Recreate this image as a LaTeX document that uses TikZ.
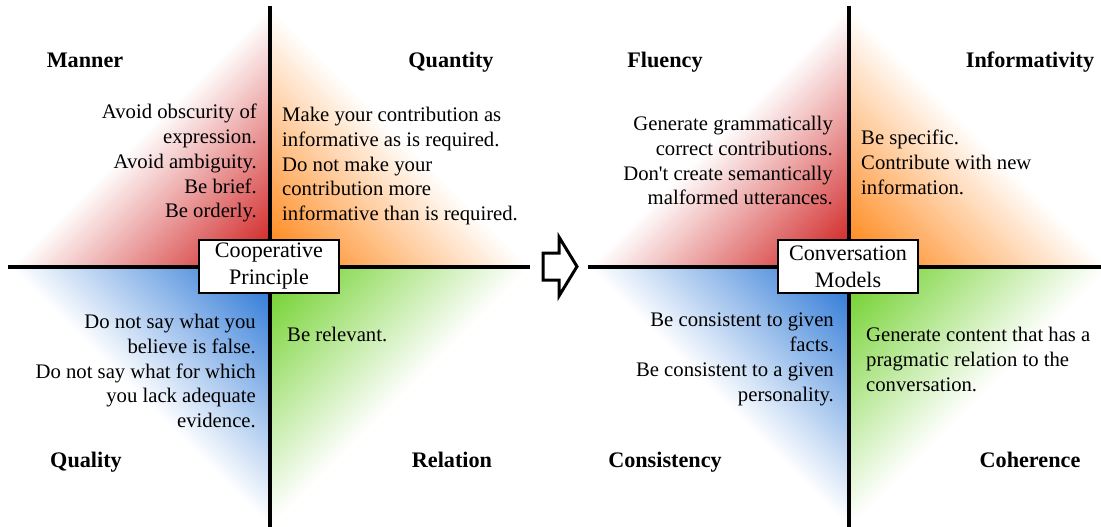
\documentclass[tikz,border=0pt]{standalone}
\usepackage{fontspec}
\setmainfont{Liberation Serif}
\usepackage{xcolor}
\usepackage{tikz}
\usetikzlibrary{positioning}

\definecolor{mannerred}{RGB}{206,22,22}
\definecolor{quantorange}{RGB}{255,128,12}
\definecolor{qualblue}{RGB}{32,112,212}
\definecolor{relgreen}{RGB}{104,206,32}

% corner colour at 14.64bp, white on the hypotenuse at 50bp
\pgfdeclareverticalshading{redfade}{100bp}{color(0bp)=(mannerred); color(14.64bp)=(mannerred); color(50bp)=(white); color(100bp)=(white)}
\pgfdeclareverticalshading{orangefade}{100bp}{color(0bp)=(quantorange); color(14.64bp)=(quantorange); color(50bp)=(white); color(100bp)=(white)}
\pgfdeclareverticalshading{bluefade}{100bp}{color(0bp)=(qualblue); color(14.64bp)=(qualblue); color(50bp)=(white); color(100bp)=(white)}
\pgfdeclareverticalshading{greenfade}{100bp}{color(0bp)=(relgreen); color(14.64bp)=(relgreen); color(50bp)=(white); color(100bp)=(white)}

\begin{document}
\begin{tikzpicture}[x=1pt, y=-1pt,
	maxim/.style={font=\fontsize{22.2}{26}\selectfont\bfseries, anchor=base, inner sep=0pt},
	rulel/.style={font=\fontsize{20.7}{24.8}\selectfont, align=right, anchor=north east, inner sep=0pt},
	ruler/.style={font=\fontsize{20.7}{24.8}\selectfont, align=left, anchor=north west, inner sep=0pt},
	centerbox/.style={draw, fill=white, line width=1.5pt, minimum width=140pt, minimum height=53pt, inner sep=0pt, align=center, font=\fontsize{22.1}{27}\selectfont},
	axisline/.style={line width=3.5pt}]
	\useasboundingbox (0,0) rectangle (1101,527);
	% Grice's maxims
	\shade[shading=redfade, shading angle=45] (270,267) -- (270,7) -- (10,267) -- cycle;
	\shade[shading=orangefade, shading angle=-45] (270,267) -- (270,7) -- (530,267) -- cycle;
	\shade[shading=bluefade, shading angle=135] (270,267) -- (270,527) -- (10,267) -- cycle;
	\shade[shading=greenfade, shading angle=-135] (270,267) -- (270,527) -- (530,267) -- cycle;
	\draw[axisline] (270,6) -- (270,527);
	\draw[axisline] (8,267) -- (530,267);
	% conversation models
	\shade[shading=redfade, shading angle=45] (849,267) -- (849,7) -- (589,267) -- cycle;
	\shade[shading=orangefade, shading angle=-45] (849,267) -- (849,7) -- (1109,267) -- cycle;
	\shade[shading=bluefade, shading angle=135] (849,267) -- (849,527) -- (589,267) -- cycle;
	\shade[shading=greenfade, shading angle=-135] (849,267) -- (849,527) -- (1109,267) -- cycle;
	\draw[axisline] (849,6) -- (849,527);
	\draw[axisline] (588,267) -- (1101,267);
	% block arrow
	\draw[line width=3pt] (543,253) -- (559,253) -- (559,237) -- (577,266.5) -- (559,296) -- (559,280) -- (543,280) -- cycle;
	\node[maxim] (manner) at (85,67) {Manner};
	\node[maxim] (quantity) at (451,67) {Quantity};
	\node[maxim] (quality) at (86,467) {Quality};
	\node[maxim] (relation) at (452,467) {Relation};
	\node[maxim] (fluency) at (665,67) {Fluency};
	\node[maxim] (inform) at (1030,67) {Informativity};
	\node[maxim] (consist) at (665,467) {Consistency};
	\node[maxim] (coher) at (1030,467) {Coherence};
	\node[rulel] (mannertext) at (257,104) {Avoid obscurity of\\expression.\\Avoid ambiguity.\\Be brief.\\Be orderly.};
	\node[ruler] (quantitytext) at (282,107) {Make your contribution as\\informative as is required.\\Do not make your\\contribution more\\informative than is required.};
	\node[rulel] (qualitytext) at (256,314) {Do not say what you\\believe is false.\\Do not say what for which\\you lack adequate\\evidence.};
	\node[ruler] (relationtext) at (287,327) {Be relevant.};
	\node[rulel] (fluencytext) at (833,116) {Generate grammatically\\correct contributions.\\Don\textquotesingle t create semantically\\malformed utterances.};
	\node[ruler] (informtext) at (861,130) {Be specific.\\Contribute with new\\information.};
	\node[rulel] (consisttext) at (834,313) {Be consistent to given\\facts.\\Be consistent to a given\\personality.};
	\node[ruler] (cohertext) at (866,327) {Generate content that has a\\pragmatic relation to the\\conversation.};
	\node[centerbox] (coop) at (269,266.5) {Cooperative\\Principle};
	\node[centerbox] (convmod) at (848,266.5) {Conversation\\Models};
\end{tikzpicture}
\end{document}
